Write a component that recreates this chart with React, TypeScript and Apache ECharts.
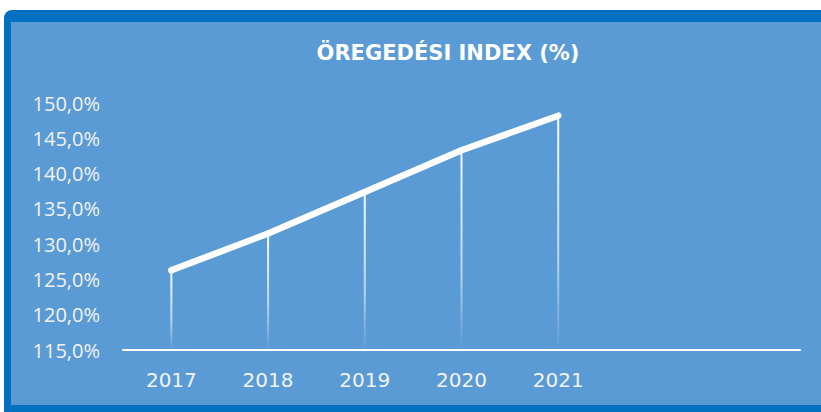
import React, { useEffect, useRef } from "react";
import * as echarts from "echarts";

const categories = ["2017", "2018", "2019", "2020", "2021", "", ""];
const values = [126.3, 131.5, 137.4, 143.3, 148.2];
const yMin = 115;
const yMax = 150;
const yStep = 5;
const title = "ÖREGEDÉSI INDEX (%)";

export default function App() {
  const ref = useRef<HTMLDivElement>(null);
  useEffect(() => {
    if (!ref.current) return;
    const chart = echarts.init(ref.current, null, { renderer: "svg" });
    chart.setOption({
      animation: false,
      backgroundColor: "#ffffff",
      graphic: [
        {
          type: "rect",
          z: -10,
          shape: { x: 4, y: 10, width: 840, height: 420, r: 8 },
          style: { fill: "#0070C0" },
        },
        {
          type: "rect",
          z: -9,
          shape: { x: 11, y: 22, width: 830, height: 383 },
          style: { fill: "#5B9BD5" },
        },
      ],
      title: {
        text: title,
        left: 443,
        top: 37,
        textAlign: "center",
        textStyle: {
          color: "#ffffff",
          fontFamily: "DejaVu Sans",
          fontWeight: "bold",
          fontSize: 21,
        },
      },
      grid: { left: 123, right: 21, top: 103, bottom: 62 },
      xAxis: {
        type: "category",
        data: categories,
        boundaryGap: true,
        axisLine: { show: true, lineStyle: { color: "#ffffff", width: 2 } },
        axisTick: { show: false },
        axisLabel: {
          color: "#f2f2f2",
          fontFamily: "DejaVu Sans",
          fontSize: 20,
          margin: 20,
        },
        splitLine: { show: false },
      },
      yAxis: {
        type: "value",
        min: yMin,
        max: yMax,
        interval: yStep,
        axisLine: { show: false },
        axisTick: { show: false },
        splitLine: { show: false },
        axisLabel: {
          color: "#f2f2f2",
          fontFamily: "Open Sans",
          fontSize: 20,
          margin: 23,
          formatter: (v: number) => v.toFixed(1).replace(".", ",") + "%",
        },
      },
      series: [
        {
          type: "bar",
          data: values,
          barWidth: 2,
          z: 1,
          itemStyle: {
            color: new echarts.graphic.LinearGradient(0, 0, 0, 1, [
              { offset: 0, color: "rgba(255,255,255,0.95)" },
              { offset: 0.6, color: "rgba(255,255,255,0.6)" },
              { offset: 1, color: "rgba(255,255,255,0)" },
            ]),
          },
        },
        {
          type: "line",
          data: values,
          z: 3,
          showSymbol: false,
          symbol: "none",
          lineStyle: { color: "#ffffff", width: 6.5, cap: "round", join: "round" },
        },
      ],
    });
    return () => chart.dispose();
  }, []);
  return (
    <div
      ref={ref}
      style={{ position: "absolute", left: 0, top: 0, width: 821, height: 412 }}
    />
  );
}
